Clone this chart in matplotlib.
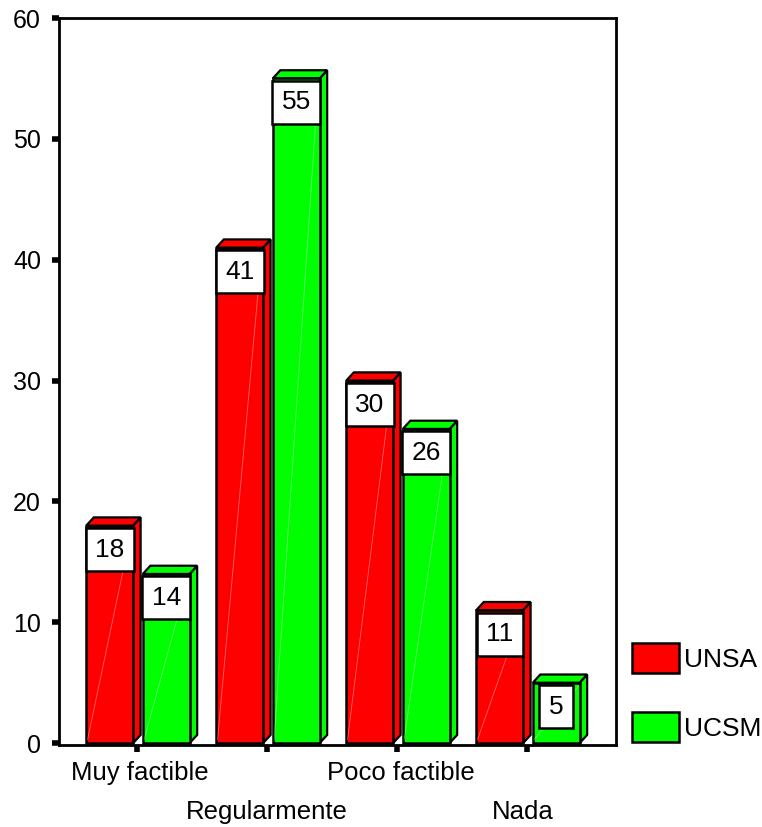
import matplotlib
matplotlib.use("Agg")
import matplotlib.pyplot as plt
from matplotlib.patches import Polygon, Rectangle
import numpy as np

plt.rcParams['font.family'] = ['Liberation Sans', 'DejaVu Sans']

categories = ["Muy factible", "Regularmente", "Poco factible", "Nada"]
series_names = ["UNSA", "UCSM"]
unsa = [18, 41, 30, 11]
ucsm = [14, 55, 26, 5]
yticks = [0, 10, 20, 30, 40, 50, 60]

colors = ["#ff0000", "#00ff00"]

fig = plt.figure(figsize=(7.62, 8.27), dpi=100)
ax = fig.add_axes([0.0774, 0.0992, 0.731, 0.879])
ax.set_xlim(-0.6, 3.685)
ax.set_ylim(-0.15, 60.0)

bar_w = 0.36
offsets = [-0.21, 0.225]
# depth of the pseudo-3D extrusion, in data units
ddx = 0.058
ddy = 0.68

def draw_bar(x0, h, color):
    x1 = x0 + bar_w
    # side face
    side = Polygon([[x1, 0], [x1 + ddx, ddy], [x1 + ddx, h + ddy], [x1, h]],
                   closed=True, facecolor=color, edgecolor="black", lw=1.6, zorder=2)
    # top face
    top = Polygon([[x0, h], [x0 + ddx, h + ddy], [x1 + ddx, h + ddy], [x1, h]],
                  closed=True, facecolor=color, edgecolor="black", lw=1.6, zorder=2)
    front = Rectangle((x0, 0), bar_w, h, facecolor=color, edgecolor="black",
                      lw=1.8, zorder=3)
    ax.add_patch(side)
    ax.add_patch(top)
    ax.add_patch(front)
    # faint diagonal sheen on the front face
    ax.plot([x0 + 0.01, x1 - 0.01], [0.3, h - 0.3], color="white", lw=0.6,
            alpha=0.4, zorder=3.5)

for i, vals in enumerate([unsa, ucsm]):
    for j, v in enumerate(vals):
        x0 = j + offsets[i] - bar_w / 2
        draw_bar(x0, v, colors[i])
        ax.annotate(str(v), xy=(j + offsets[i], v), xytext=(0, -12),
                    textcoords="offset pixels", ha="center", va="top",
                    fontsize=19, zorder=5,
                    bbox=dict(boxstyle="square,pad=0.36", facecolor="white",
                              edgecolor="black", lw=1.8))

ax.set_yticks(yticks)
ax.set_yticklabels([str(t) for t in yticks], fontsize=18)
ax.set_xticks(range(len(categories)))
ax.set_xticklabels([])
ax.tick_params(axis="both", direction="out", length=5, width=4, color="black")
ax.tick_params(axis="y", pad=8)

for s in ax.spines.values():
    s.set_linewidth(2)
    s.set_color("black")

# staggered category labels
label_dx = [0.02, 0.0, 0.03, -0.03]
for j, c in enumerate(categories):
    yoff = -0.0385 if j % 2 == 0 else -0.092
    ax.text(j + label_dx[j], yoff, c, transform=ax.get_xaxis_transform(),
            ha="center", va="center", fontsize=18.5)

handles = [Rectangle((0, 0), 1, 1, facecolor=colors[k], edgecolor="black", lw=1.8)
           for k in range(2)]
fig.legend(handles, series_names, loc="upper left",
           bbox_to_anchor=(632 / 762, 1 - 643 / 827), frameon=False,
           fontsize=19, handlelength=1.78, handleheight=1.4, handletextpad=0.2,
           labelspacing=1.45, borderpad=0, borderaxespad=0)

fig.savefig("out.png", dpi=100)
